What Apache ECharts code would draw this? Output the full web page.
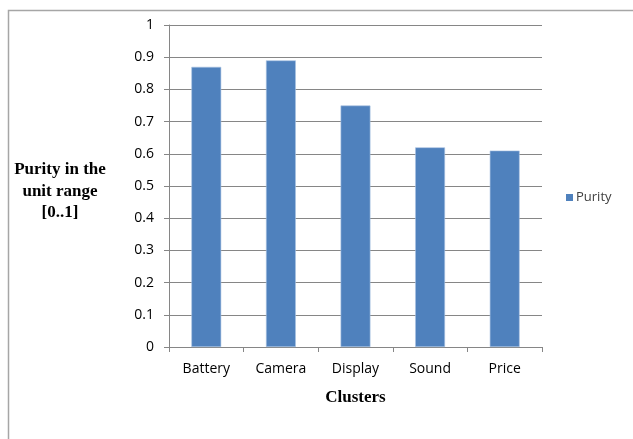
<!DOCTYPE html>
<html>
<head>
<meta charset="utf-8">
<script src="https://cdn.jsdelivr.net/npm/echarts@6/dist/echarts.min.js"></script>
<style>
  html, body { margin: 0; padding: 0; background: #ffffff; }
  #chart { width: 633px; height: 439px; }
</style>
</head>
<body>
<div id="chart"></div>
<script>
// Cluster purity per product aspect
const categories = ['Battery', 'Camera', 'Display', 'Sound', 'Price'];
const purity = [0.87, 0.89, 0.75, 0.62, 0.61];
const yTicks = [0, 0.1, 0.2, 0.3, 0.4, 0.5, 0.6, 0.7, 0.8, 0.9, 1];

const chart = echarts.init(document.getElementById('chart'), null, { renderer: 'canvas' });

const labelFont = '"Open Sans", "Liberation Sans", Arial, sans-serif';
const titleFont = '"Liberation Serif", "Times New Roman", serif';

chart.setOption({
  animation: false,
  backgroundColor: '#ffffff',
  graphic: [
    {
      type: 'rect',
      shape: { x: 8.5, y: 10.5, width: 640, height: 440 },
      style: { fill: 'none', stroke: '#a6a6a6', lineWidth: 1.5 },
      silent: true
    },
    {
      type: 'text',
      x: 60, y: 159,
      style: {
        text: 'Purity in the\nunit range\n[0..1]',
        font: 'bold 17px ' + titleFont,
        fill: '#000000',
        textAlign: 'center',
        textVerticalAlign: 'top',
        lineHeight: 21.5
      }
    }
  ],
  legend: {
    data: ['Purity'],
    orient: 'vertical',
    left: 561, top: 186,
    itemWidth: 7, itemHeight: 7,
    icon: 'rect',
    itemGap: 4,
    itemStyle: { borderWidth: 0 },
    textStyle: { fontFamily: labelFont, fontSize: 13, color: '#404040', padding: [0, 0, 0, -2] }
  },
  grid: { left: 169, right: 91, top: 25, bottom: 92, containLabel: false },
  xAxis: {
    type: 'category',
    data: categories,
    name: 'Clusters',
    nameLocation: 'middle',
    nameGap: 42,
    nameTextStyle: { fontFamily: titleFont, fontWeight: 'bold', fontSize: 17, color: '#000000' },
    axisLine: { lineStyle: { color: '#868686', width: 1 } },
    axisTick: { show: true, length: 5, lineStyle: { color: '#868686' } },
    axisLabel: { fontFamily: labelFont, fontSize: 14, color: '#000000', margin: 15 }
  },
  yAxis: {
    type: 'value',
    min: 0, max: 1, interval: 0.1,
    axisLine: { show: true, lineStyle: { color: '#868686', width: 1 } },
    axisTick: { show: true, length: 5, lineStyle: { color: '#868686' } },
    axisLabel: {
      fontFamily: labelFont, fontSize: 14, color: '#000000', margin: 15,
      formatter: v => {
        const t = yTicks.find(x => Math.abs(x - v) < 1e-9);
        return t === undefined ? '' : String(t);
      }
    },
    splitLine: { show: true, lineStyle: { color: '#868686', width: 1 } }
  },
  series: [{
    name: 'Purity',
    type: 'bar',
    data: purity,
    barWidth: '40%',
    itemStyle: { color: '#4f81bd', borderColor: '#a9c3e3', borderWidth: 0.6 }
  }]
});
</script>
</body>
</html>
